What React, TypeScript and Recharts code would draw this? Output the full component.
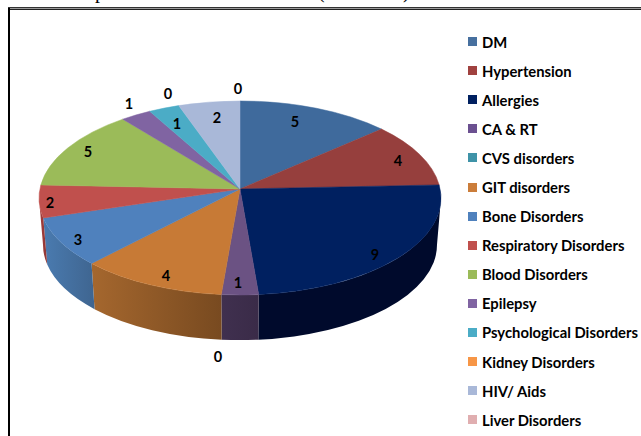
import React from "react";
import { PieChart, Pie, Legend } from "recharts";

const categories = ["DM","Hypertension","Allergies","CA & RT","CVS disorders","GIT disorders","Bone Disorders","Respiratory Disorders","Blood Disorders","Epilepsy","Psychological Disorders","Kidney Disorders","HIV/ Aids","Liver Disorders"];
const cases = [5,4,9,1,0,4,3,2,5,1,1,0,2,0];
const topColors = ["#3f6a9c","#963f3d","#002060","#6b5283","#3f93a8","#c77a36","#4f81bd","#c0504d","#9bbb59","#8064a2","#4bacc6","#f79646","#a9b8d8","#e0aeb0"];
const legendColors = ["#47709f","#a0413f","#002060","#6b5090","#3f93a8","#cb7d3a","#4f81bd","#c0504d","#9bbb59","#8064a2","#4bacc6","#f79646","#a9b8d8","#e0aeb0"];
const wallFrom = ["#335580","#7a3331","#000a2c","#40304f","#30707f","#a5672e","#4a7bb0","#a8403e","#7d974a","#67508a","#3c8aa0","#c87a38","#8a97b0","#b58d8f"];
const wallTo = ["#2b4a70","#6a2b2a","#000a2c","#3a2b48","#2a6170","#784a20","#3f6590","#8c3533","#6a803e","#574478","#347688","#aa6830","#768298","#9c7a7c"];

const data = categories.map((name, i) => ({ name, value: cases[i], fill: topColors[i], legendFill: legendColors[i], wallFrom: wallFrom[i], wallTo: wallTo[i] }));

// Layout of the tilted pie: the disc is projected with perspective, so its centre sits above the ellipse centre
const W = 641, H = 436;
const CX = 240, CY = 189, RX = 201;
const K = 0.0928, ELLIPSE_CY = 198, ELLIPSE_RY = 97;
const PROJ_X = 0.9957, PROJ_Y = 96.2 / 201;
const WALL_SCALE = 0.98, WALL_CY = 245;
const SILHOUETTE = (Math.asin(K) * 180) / Math.PI;
const labelPos = [[295,121],[398,160],[375,254],[238,282],[218,356],[166,275],[78,239],[50,202],[88,151],[129,103],[177,123],[168,93],[217,117],[238,88]];

const pt = (cx: number, cy: number, r: number, a: number) => {
  const t = (a * Math.PI) / 180;
  const u = Math.cos(t);
  const v = -Math.sin(t);
  const d = 1 - K * v;
  return [cx + (r * PROJ_X * u) / d, cy + (r * PROJ_Y * v) / d];
};
const lower = (cx: number, [x, y]: number[]) => [cx + (x - cx) * WALL_SCALE, WALL_CY + (y - ELLIPSE_CY) * WALL_SCALE];

const TopFace = (p: any) => {
  const { cx, cy, outerRadius: r, startAngle: s, endAngle: e, fill } = p;
  if (Math.abs(s - e) < 0.01) return <g />;
  const [x1, y1] = pt(cx, cy, r, s);
  const [x2, y2] = pt(cx, cy, r, e);
  const d = `M${cx},${cy}L${x1},${y1}A${r},${ELLIPSE_RY} 0 ${Math.abs(s - e) > 180 ? 1 : 0} 1 ${x2},${y2}Z`;
  return <path d={d} fill={fill} stroke={fill} strokeWidth={0.5} />;
};

const Wall = (p: any) => {
  const { cx, cy, outerRadius: r, startAngle, endAngle, index, payload } = p;
  const s = Math.min(startAngle, -SILHOUETTE);
  const e = Math.max(endAngle, -180 + SILHOUETTE);
  if (s - e < 0.01) return <g />;
  const a = pt(cx, cy, r, s);
  const b = pt(cx, cy, r, e);
  const a2 = lower(cx, a);
  const b2 = lower(cx, b);
  const id = `wall-${index}`;
  const d = `M${a[0]},${a[1]}A${r},${ELLIPSE_RY} 0 0 1 ${b[0]},${b[1]}L${b2[0]},${b2[1]}A${r * WALL_SCALE},${ELLIPSE_RY * WALL_SCALE} 0 0 0 ${a2[0]},${a2[1]}Z`;
  return (
    <g>
      <defs>
        <linearGradient id={id} x1="0" y1="0" x2="1" y2="0">
          <stop offset="0" stopColor={payload?.wallFrom ?? p.wallFrom} />
          <stop offset="1" stopColor={payload?.wallTo ?? p.wallTo} />
        </linearGradient>
      </defs>
      <path d={d} fill={`url(#${id})`} stroke="none" />
    </g>
  );
};

const ValueLabel = (p: any) => {
  const i = p.index;
  const [x, y] = labelPos[i];
  return (
    <text x={x} y={y} textAnchor="middle" dominantBaseline="central" fontFamily="Lato" fontWeight={700} fontSize={14.5} fill="#000">
      {cases[i]}
    </text>
  );
};

const LegendList = () => (
  <div style={{ fontFamily: "Lato", fontWeight: 700, fontSize: 14.8, color: "#000" }}>
    {data.map((d) => (
      <div key={d.name} style={{ display: "flex", alignItems: "center", height: 29.1, whiteSpace: "nowrap" }}>
        <span style={{ display: "inline-block", width: 9, height: 9, background: d.legendFill, marginRight: 5, flex: "none" }} />
        {d.name}
      </div>
    ))}
  </div>
);

const titleBits = [["p", 95], ["(", 318], [")", 403]] as const;

export default function App() {
  return (
    <div style={{ position: "absolute", left: 0, top: 0, width: W, height: H, overflow: "hidden", background: "#fff" }}>
      {titleBits.map(([t, x]) => (
        <span key={x} style={{ position: "absolute", left: x, top: -19, fontFamily: "Liberation Serif", fontSize: 20, lineHeight: "20px", color: "#000" }}>{t}</span>
      ))}
      <div style={{ position: "absolute", left: 8, top: 7, width: W, height: 1, background: "#333" }} />
      <div style={{ position: "absolute", left: 8, top: 8, width: W, height: 1, background: "#999" }} />
      <div style={{ position: "absolute", left: 8, top: 9, width: W, height: 1, background: "#222" }} />
      <div style={{ position: "absolute", left: 8, top: 8, width: 2, height: H, background: "#000" }} />
      <PieChart width={W} height={H} style={{ position: "absolute", left: 0, top: 0 }} margin={{ top: 0, right: 0, bottom: 0, left: 0 }}>
        <Pie data={data} dataKey="value" nameKey="name" cx={CX} cy={CY} outerRadius={RX} startAngle={90} endAngle={-270} stroke="none" legendType="none" shape={Wall} isAnimationActive={false} />
        <Pie data={data} dataKey="value" nameKey="name" cx={CX} cy={CY} outerRadius={RX} startAngle={90} endAngle={-270} stroke="none" shape={TopFace} label={ValueLabel} labelLine={false} isAnimationActive={false} />
        <Legend layout="vertical" align="right" verticalAlign="top" content={<LegendList />} wrapperStyle={{ position: "absolute", left: 468, top: 27, width: 173 }} />
      </PieChart>
    </div>
  );
}
